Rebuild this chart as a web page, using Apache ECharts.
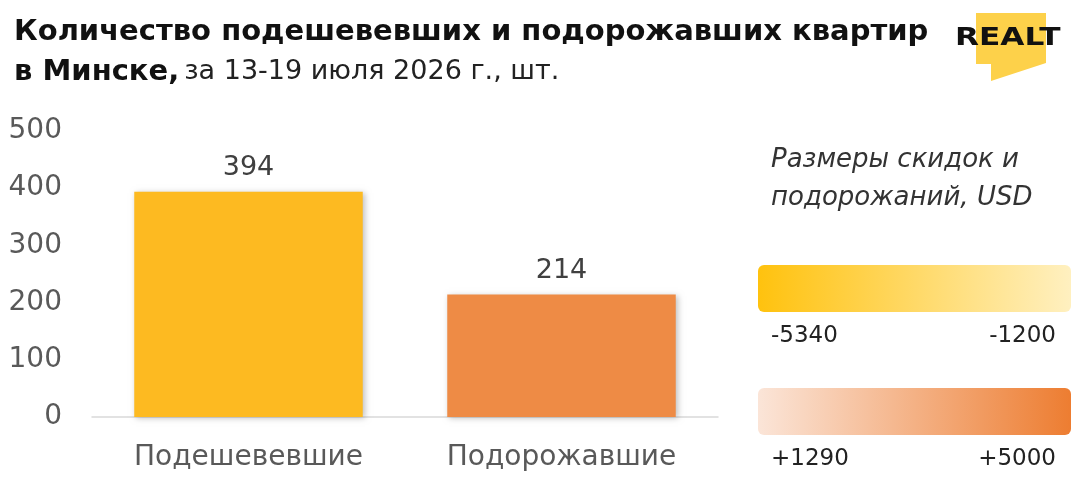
<!DOCTYPE html>
<html>
<head>
<meta charset="utf-8">
<script src="https://cdn.jsdelivr.net/npm/echarts@6/dist/echarts.min.js"></script>
<style>
  html, body { margin: 0; padding: 0; background: #fff; }
  #chart { width: 1080px; height: 492px; }
</style>
</head>
<body>
<div id="chart"></div>
<script>
const categories = ["Подешевевшие", "Подорожавшие"];
const counts = [394, 214];
const barColors = ["#FDBA21", "#EE8B45"];
const yTicks = [0, 100, 200, 300, 400, 500];
const discountRange = ["-5340", "-1200"];
const riseRange = ["+1290", "+5000"];

const FONT = "'DejaVu Sans', sans-serif";
const chart = echarts.init(document.getElementById("chart"));

chart.setOption({
  backgroundColor: "#fff",
  animation: false,
  title: {
    left: 9,
    top: 7,
    text: "{b|Количество подешевевших и подорожавших квартир}\n{b|в Минске,} {r|за 13-19 июля 2026 г., шт.}",
    textStyle: {
      rich: {
        b: { fontFamily: FONT, fontWeight: "bold", fontSize: 29, color: "#111", lineHeight: 40 },
        r: { fontFamily: FONT, fontWeight: "normal", fontSize: 27, color: "#222", lineHeight: 40 },
      },
    },
  },
  grid: { left: 92, right: 362, top: 131, bottom: 75, containLabel: false },
  xAxis: {
    type: "category",
    data: categories,
    axisLine: { lineStyle: { color: "#d9d9d9", width: 1.5 } },
    axisTick: { show: false },
    axisLabel: { color: "#595959", fontSize: 28, fontFamily: FONT, margin: 27 },
  },
  yAxis: {
    type: "value",
    min: yTicks[0],
    max: yTicks[yTicks.length - 1],
    interval: 100,
    axisLine: { show: false },
    axisTick: { show: false },
    splitLine: { show: false },
    axisLabel: { color: "#595959", fontSize: 28, fontFamily: FONT, margin: 30 },
  },
  series: [
    {
      type: "bar",
      barWidth: "73%",
      data: counts.map((v, i) => ({
        value: v,
        itemStyle: {
          color: barColors[i],
          shadowBlur: 6,
          shadowColor: "rgba(0,0,0,0.25)",
          shadowOffsetX: 2,
          shadowOffsetY: 1,
        },
      })),
      label: {
        show: true,
        position: "top",
        distance: 10,
        color: "#404040",
        fontSize: 27,
        fontFamily: FONT,
      },
    },
  ],
  graphic: [
    // logo
    {
      type: "polygon",
      shape: { points: [[976, 13], [1046, 13], [1046, 63], [991, 81], [991, 64], [976, 64]] },
      style: { fill: "#FDD14A" },
    },
    {
      type: "text",
      x: 955,
      y: 27,
      scaleX: 1.3,
      style: { text: "REALT", font: "900 24px 'DejaVu Sans'", fill: "#111" },
    },
    // legend
    {
      type: "text",
      left: 771,
      top: 141,
      style: {
        text: "Размеры скидок и\nподорожаний, USD",
        font: "italic 26px 'DejaVu Sans'",
        lineHeight: 38,
        fill: "#333",
      },
    },
    {
      type: "rect",
      shape: { x: 758, y: 265, width: 313, height: 47, r: 6 },
      style: {
        fill: new echarts.graphic.LinearGradient(0, 0, 1, 0, [
          { offset: 0, color: "#FFC20E" },
          { offset: 1, color: "#FFF0C0" },
        ]),
      },
    },
    {
      type: "rect",
      shape: { x: 758, y: 388, width: 313, height: 47, r: 6 },
      style: {
        fill: new echarts.graphic.LinearGradient(0, 0, 1, 0, [
          { offset: 0, color: "#FBE5D8" },
          { offset: 1, color: "#ED7D31" },
        ]),
      },
    },
    {
      type: "text", left: 771, top: 325,
      style: { text: discountRange[0], font: "23px 'DejaVu Sans'", fill: "#222" },
    },
    {
      type: "text", right: 24, top: 325,
      style: { text: discountRange[1], font: "23px 'DejaVu Sans'", fill: "#222" },
    },
    {
      type: "text", left: 771, top: 448,
      style: { text: riseRange[0], font: "23px 'DejaVu Sans'", fill: "#222" },
    },
    {
      type: "text", right: 24, top: 448,
      style: { text: riseRange[1], font: "23px 'DejaVu Sans'", fill: "#222" },
    },
  ],
});
</script>
</body>
</html>
